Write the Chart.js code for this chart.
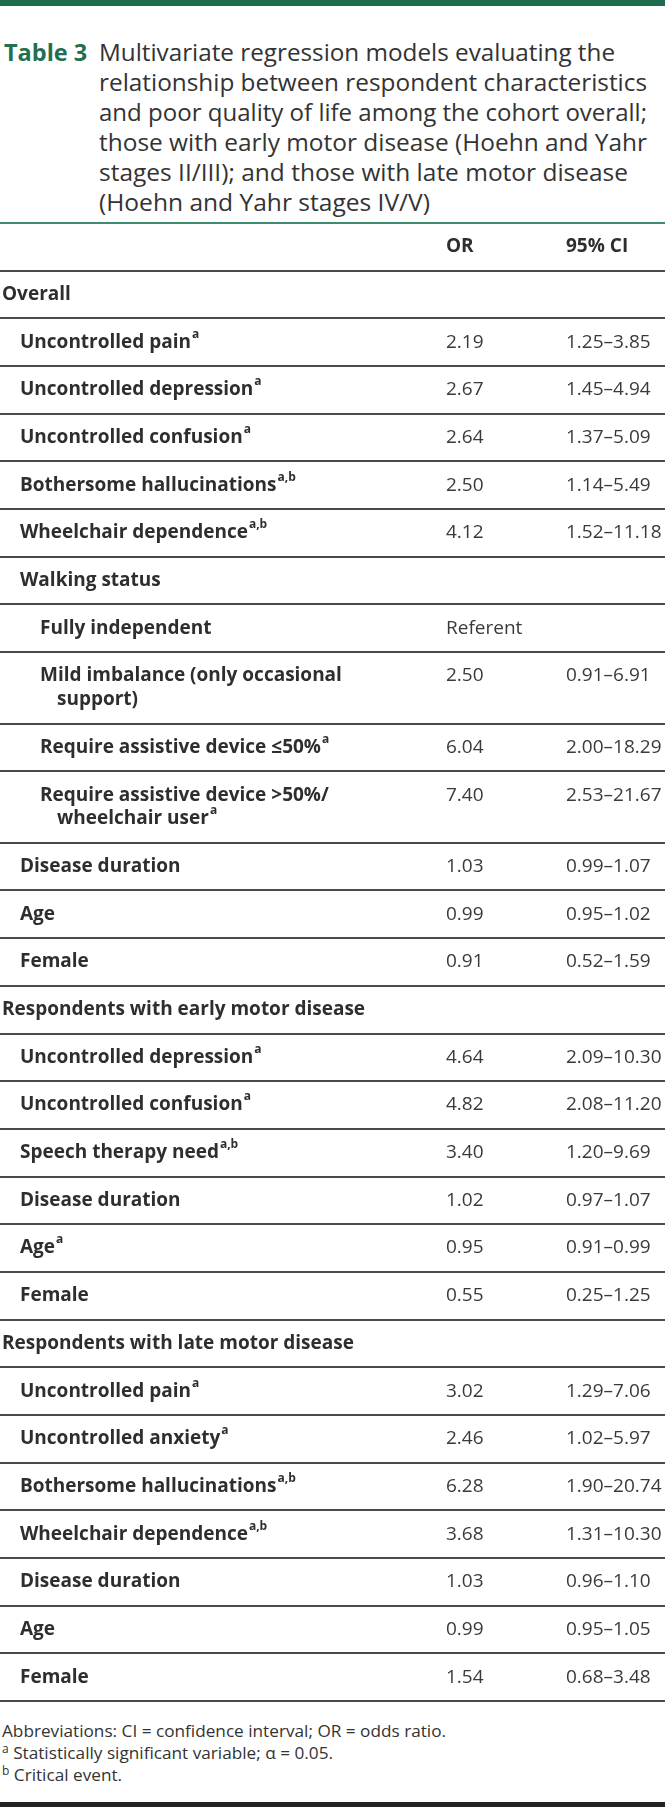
<!DOCTYPE html>
<html>
<head>
<meta charset="utf-8">
<script src="https://cdn.jsdelivr.net/npm/chart.js@4.4.1/dist/chart.umd.min.js"></script>
<style>
  html, body { margin: 0; padding: 0; background: #fff; }
  body { width: 665px; height: 1807px; position: relative; overflow: hidden; font-family: "Open Sans", sans-serif; color: #2e2e2e; }
  #topbar { position: absolute; left: 0; top: 0; width: 665px; height: 6px; background: #1d6b4c; }
  #title { position: absolute; left: 4px; top: 37px; width: 661px; line-height: 30px; display: flex; }
  #title .lab { color: #1f6f50; font-weight: 700; font-size: 23.5px; width: 95px; flex: none; }
  #title .txt { color: #333; font-size: 24.5px; }
  #title .txt span { display: inline-block; white-space: nowrap; transform-origin: 0 50%; }
  #wrap { position: absolute; left: 0; top: 219px; width: 665px; height: 1486px; }
  #notes { position: absolute; left: 2px; top: 1720px; font-size: 17.2px; line-height: 22px; color: #333; }
  #notes sup { font-size: 12px; line-height: 0; vertical-align: 6px; }
  #botbar { position: absolute; left: 0; top: 1802px; width: 665px; height: 5px; background: #222; }
</style>
</head>
<body>
<div id="topbar"></div>
<div id="title"><div class="lab">Table 3</div><div class="txt" id="tt"></div></div>
<div id="wrap"><canvas id="c"></canvas></div>
<div id="notes">Abbreviations: CI = confidence interval; OR = odds ratio.<br><sup>a</sup> Statistically significant variable; α = 0.05.<br><sup>b</sup> Critical event.</div>
<div id="botbar"></div>
<script>
// ---- data ----
const titleLines = [
  "Multivariate regression models evaluating the",
  "relationship between respondent characteristics",
  "and poor quality of life among the cohort overall;",
  "those with early motor disease (Hoehn and Yahr",
  "stages II/III); and those with late motor disease",
  "(Hoehn and Yahr stages IV/V)"
];
const columnHeaders = ["", "OR", "95% CI"];
const rowLabels = [
  "Overall",
  "Uncontrolled pain",
  "Uncontrolled depression",
  "Uncontrolled confusion",
  "Bothersome hallucinations",
  "Wheelchair dependence",
  "Walking status",
  "Fully independent",
  "Mild imbalance (only occasional\nsupport)",
  "Require assistive device ≤50%",
  "Require assistive device >50%/\nwheelchair user",
  "Disease duration",
  "Age",
  "Female",
  "Respondents with early motor disease",
  "Uncontrolled depression",
  "Uncontrolled confusion",
  "Speech therapy need",
  "Disease duration",
  "Age",
  "Female",
  "Respondents with late motor disease",
  "Uncontrolled pain",
  "Uncontrolled anxiety",
  "Bothersome hallucinations",
  "Wheelchair dependence",
  "Disease duration",
  "Age",
  "Female"
];
const rowLevels = [0,1,1,1,1,1,1,2,2,2,2,1,1,1,0,1,1,1,1,1,1,0,1,1,1,1,1,1,1];
const rowNotes = ["","a","a","a","a,b","a,b","","","","a","a","","","","","a","a","a,b","","a","","","a","a","a,b","a,b","","",""];
const orValues = [null,2.19,2.67,2.64,2.50,4.12,null,"Referent",2.50,6.04,7.40,1.03,0.99,0.91,null,4.64,4.82,3.40,1.02,0.95,0.55,null,3.02,2.46,6.28,3.68,1.03,0.99,1.54];
const ciLower = [null,1.25,1.45,1.37,1.14,1.52,null,null,0.91,2.00,2.53,0.99,0.95,0.52,null,2.09,2.08,1.20,0.97,0.91,0.25,null,1.29,1.02,1.90,1.31,0.96,0.95,0.68];
const ciUpper = [null,3.85,4.94,5.09,5.49,11.18,null,null,6.91,18.29,21.67,1.07,1.02,1.59,null,10.30,11.20,9.69,1.07,0.99,1.25,null,7.06,5.97,20.74,10.30,1.10,1.05,3.48];

// ---- layout / style ----
const TITLE_W = [516, 548, 548, 548, 529, 331];
const X_LEVEL = [2, 20, 40];
const X_CONT = 17;
const X_OR = 446;
const X_CI = 566;
const TEXT = '#2e2e2e';
const NUM_TEXT = '#3a3a3a';
const LABEL_FONT = '700 19px "Open Sans"';
const NUM_FONT = '400 19px "Open Sans"';
const SUP_FONT = '700 12px "Open Sans"';

// title lines fitted to measured widths
const tt = document.getElementById('tt');
titleLines.forEach((t, i) => {
  const s = document.createElement('span');
  s.textContent = t;
  tt.appendChild(s);
  tt.appendChild(document.createElement('br'));
  const w = s.getBoundingClientRect().width;
  s.style.transform = 'scaleX(' + (TITLE_W[i] / w) + ')';
});

// rows: header + body; unit weights = lines + 1
const allLabels = [columnHeaders[0]].concat(rowLabels);
const weights = allLabels.map(l => l.split("\n").length + 1);
const starts = [];
let acc = 0;
weights.forEach(w => { starts.push(acc); acc += w; });
const total = acc;
const boundaries = starts.concat([total]);

const fmt = v => (typeof v === 'number') ? v.toFixed(2) : v;
const orPoints = [], ciPoints = [], labelPoints = [];
orPoints.push({x: X_OR, y: starts[0] + 1, t: columnHeaders[1], head: true});
ciPoints.push({x: X_CI, y: starts[0] + 1, t: columnHeaders[2], head: true});
rowLabels.forEach((lab, i) => {
  const r = i + 1;
  labelPoints.push({x: X_LEVEL[rowLevels[i]], y: starts[r] + 1, t: lab, sup: rowNotes[i]});
  if (orValues[i] !== null) orPoints.push({x: X_OR, y: starts[r] + 1, t: fmt(orValues[i])});
  if (ciLower[i] !== null) ciPoints.push({x: X_CI, y: starts[r] + 1, t: fmt(ciLower[i]) + '–' + fmt(ciUpper[i])});
});

const textPlugin = {
  id: 'cellText',
  afterDatasetsDraw(chart) {
    const ctx = chart.ctx;
    const ys = chart.scales.y;
    const unitPx = Math.abs(ys.getPixelForValue(1) - ys.getPixelForValue(0));
    ctx.save();
    ctx.textBaseline = 'middle';
    ctx.textAlign = 'left';
    chart.data.datasets.forEach((ds, di) => {
      const meta = chart.getDatasetMeta(di);
      meta.data.forEach((el, j) => {
        const p = ds.data[j];
        const bold = (ds.kind === 'label' || p.head);
        const lines = p.t.split("\n");
        lines.forEach((ln, k) => {
          const x = el.x + (k > 0 ? X_CONT : 0);
          const y = el.y + k * unitPx;
          ctx.font = bold ? LABEL_FONT : NUM_FONT;
          ctx.fillStyle = bold ? TEXT : NUM_TEXT;
          ctx.fillText(ln, x, y);
          if (k === lines.length - 1 && p.sup) {
            const w = ctx.measureText(ln).width;
            ctx.font = SUP_FONT;
            ctx.fillStyle = TEXT;
            ctx.fillText(p.sup, x + w + 1, y - 8);
          }
        });
      });
    });
    ctx.restore();
  }
};

new Chart(document.getElementById('c'), {
  type: 'scatter',
  data: {
    datasets: [
      {kind: 'label', data: labelPoints, pointRadius: 0, pointHoverRadius: 0},
      {kind: 'or', data: orPoints, pointRadius: 0, pointHoverRadius: 0},
      {kind: 'ci', data: ciPoints, pointRadius: 0, pointHoverRadius: 0}
    ]
  },
  options: {
    responsive: true,
    maintainAspectRatio: false,
    animation: false,
    events: [],
    layout: { padding: { top: 4, bottom: 4, left: 0, right: 0 } },
    plugins: { legend: { display: false }, tooltip: { enabled: false } },
    scales: {
      x: { type: 'linear', min: 0, max: 665, display: false },
      y: {
        type: 'linear', min: 0, max: total, reverse: true,
        afterBuildTicks: s => { s.ticks = boundaries.map(v => ({value: v})); },
        ticks: { display: false },
        border: { display: false },
        grid: {
          drawTicks: false,
          lineWidth: 2,
          color: c => (c.tick && c.tick.value === 0) ? '#3f8c6e' : '#4a4a4a'
        }
      }
    }
  },
  plugins: [textPlugin]
});
</script>
</body>
</html>
